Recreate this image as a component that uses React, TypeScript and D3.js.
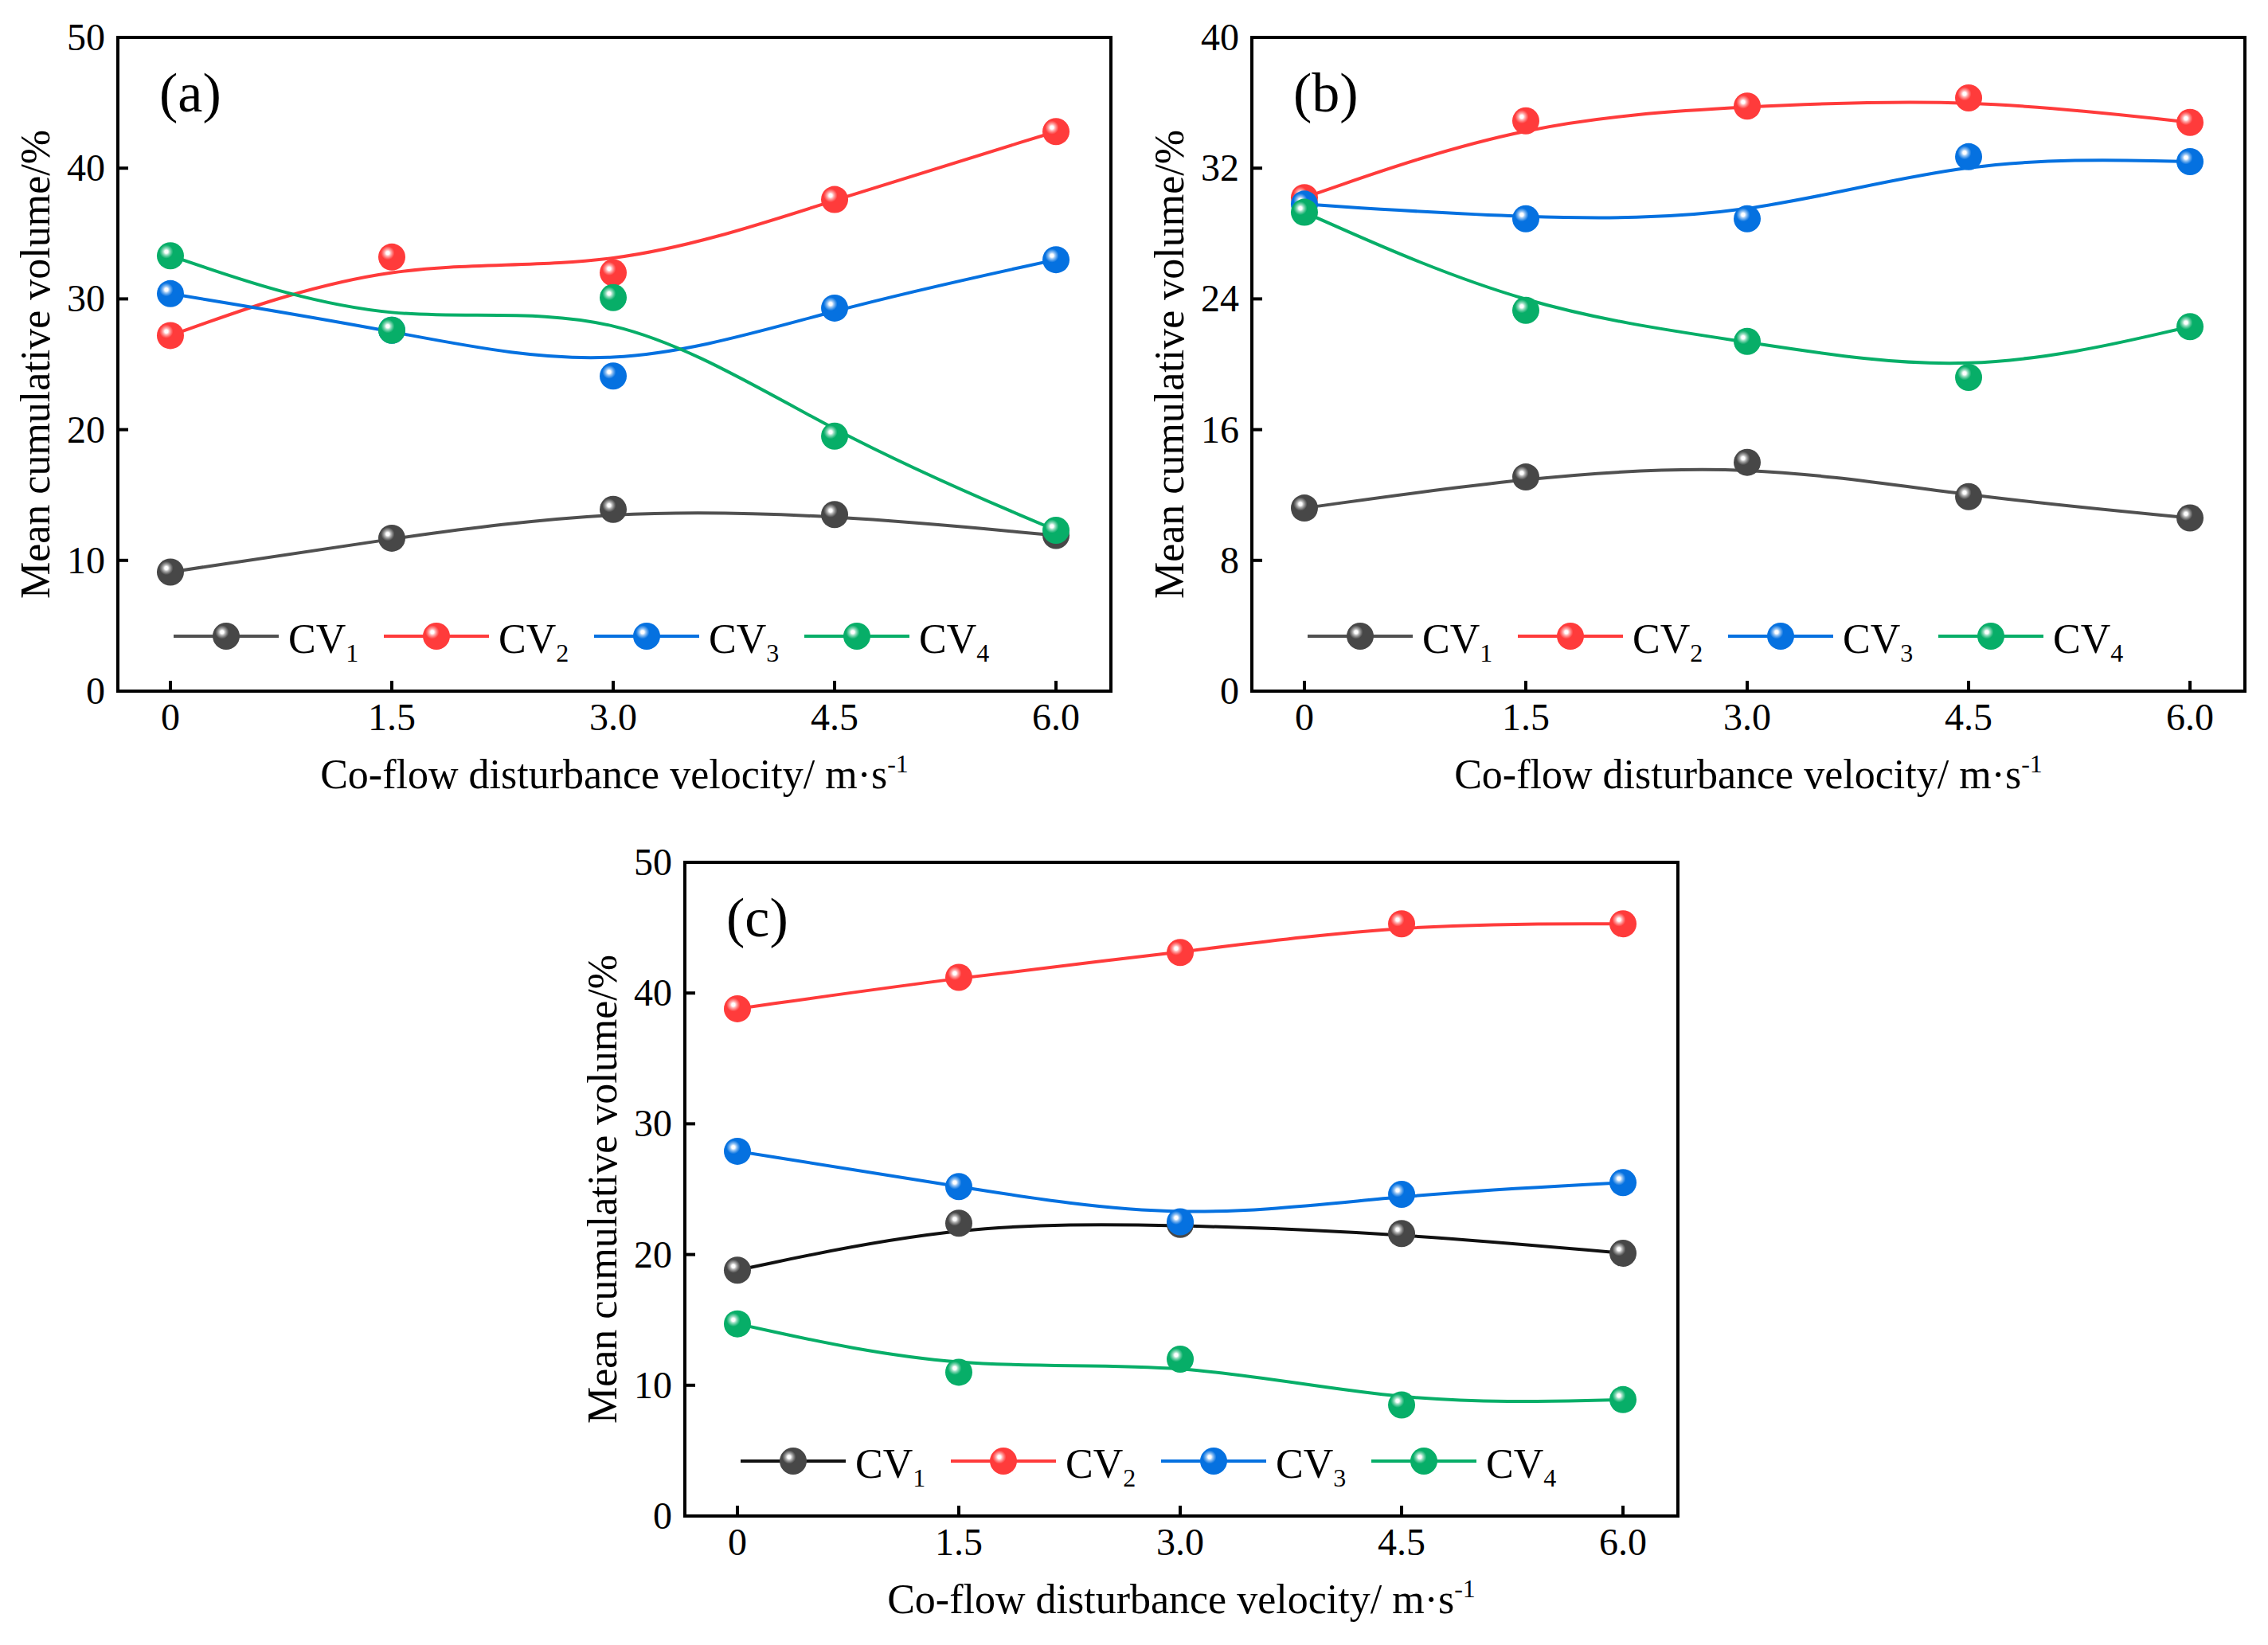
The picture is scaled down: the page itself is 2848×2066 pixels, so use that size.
import React, { useEffect, useRef } from 'react';
import * as d3 from 'd3';

// x positions (co-flow disturbance velocity, m/s)
const velocities = [0, 1.5, 3.0, 4.5, 6.0];
const xTickLabels = ['0', '1.5', '3.0', '4.5', '6.0'];
const seriesKeys = ['1', '2', '3', '4']; // CV subscripts

// panel (a)
const aCV1 = [9.1, 11.7, 13.9, 13.5, 11.9];
const aCV2 = [27.2, 33.2, 32.0, 37.6, 42.8];
const aCV3 = [30.4, 27.6, 24.1, 29.3, 33.0];
const aCV4 = [33.3, 27.6, 30.1, 19.5, 12.3];
const aYTicks = [0, 10, 20, 30, 40, 50];

// panel (b)
const bCV1 = [11.2, 13.1, 14.0, 11.9, 10.6];
const bCV2 = [30.2, 34.9, 35.8, 36.3, 34.8];
const bCV3 = [29.8, 28.9, 28.9, 32.7, 32.4];
const bCV4 = [29.3, 23.3, 21.4, 19.2, 22.3];
const bYTicks = [0, 8, 16, 24, 32, 40];

// panel (c)
const cCV1 = [18.8, 22.4, 22.3, 21.6, 20.1];
const cCV2 = [38.8, 41.2, 43.1, 45.3, 45.3];
const cCV3 = [27.9, 25.2, 22.5, 24.6, 25.5];
const cCV4 = [14.7, 11.0, 12.0, 8.5, 8.9];
const cYTicks = [0, 10, 20, 30, 40, 50];

const markerColors = ['#474747', '#ff3b3b', '#0571e0', '#07ae68'];
const lineColorsAB = ['#505050', '#ff3b3b', '#0571e0', '#07ae68'];
const lineColorsC = ['#111111', '#ff3b3b', '#0571e0', '#07ae68'];

const FONT = '"Liberation Serif", "Times New Roman", serif';
const PW = 1247;
const PH = 821;

interface Panel {
  label: string;
  left: number;
  top: number;
  yTicks: number[];
  series: number[][];
  lineColors: string[];
}

const panels: Panel[] = [
  { label: '(a)', left: 148, top: 47, yTicks: aYTicks, series: [aCV1, aCV2, aCV3, aCV4], lineColors: lineColorsAB },
  { label: '(b)', left: 1572, top: 47, yTicks: bYTicks, series: [bCV1, bCV2, bCV3, bCV4], lineColors: lineColorsAB },
  { label: '(c)', left: 860, top: 1083, yTicks: cYTicks, series: [cCV1, cCV2, cCV3, cCV4], lineColors: lineColorsC },
];

export default function App() {
  const svgRef = useRef<SVGSVGElement>(null);

  useEffect(() => {
    if (!svgRef.current) return;
    const svg = d3.select(svgRef.current);
    svg.selectAll('*').remove();

    // sphere-like gradients for markers
    const defs = svg.append('defs');
    markerColors.forEach((c, i) => {
      const grad = defs.append('radialGradient')
        .attr('id', `ball${i}`)
        .attr('cx', 0.35).attr('cy', 0.35).attr('r', 0.6)
        .attr('fx', 0.35).attr('fy', 0.35);
      const light = d3.interpolateRgb(c, '#ffffff');
      grad.append('stop').attr('offset', 0).attr('stop-color', '#ffffff');
      grad.append('stop').attr('offset', 0.1).attr('stop-color', '#ffffff');
      grad.append('stop').attr('offset', 0.2).attr('stop-color', light(0.6));
      grad.append('stop').attr('offset', 0.32).attr('stop-color', light(0.25));
      grad.append('stop').attr('offset', 0.42).attr('stop-color', c);
      grad.append('stop').attr('offset', 1).attr('stop-color', c);
    });

    panels.forEach((p) => {
      const g = svg.append('g').attr('transform', `translate(${p.left},${p.top})`);

      const x = d3.scaleLinear().domain([-0.356, 6.372]).range([0, PW]);
      const yMax = p.yTicks[p.yTicks.length - 1];
      const y = d3.scaleLinear().domain([0, yMax]).range([PH, 0]);

      const line = d3.line<number>()
        .x((_, i) => x(velocities[i]))
        .y((d) => y(d))
        .curve(d3.curveBasis);

      // series: line then markers
      p.series.forEach((vals, si) => {
        g.append('path')
          .datum(vals)
          .attr('d', line)
          .attr('fill', 'none')
          .attr('stroke', p.lineColors[si])
          .attr('stroke-width', 4);
        vals.forEach((v, i) => {
          g.append('circle')
            .attr('cx', x(velocities[i]))
            .attr('cy', y(v))
            .attr('r', 17)
            .attr('fill', `url(#ball${si})`);
        });
      });

      // frame
      g.append('rect')
        .attr('x', 0).attr('y', 0)
        .attr('width', PW).attr('height', PH)
        .attr('fill', 'none')
        .attr('stroke', '#000')
        .attr('stroke-width', 4);

      // x ticks + labels
      velocities.forEach((v, i) => {
        g.append('line')
          .attr('x1', x(v)).attr('x2', x(v))
          .attr('y1', PH).attr('y2', PH - 13)
          .attr('stroke', '#000').attr('stroke-width', 4);
        g.append('text')
          .attr('x', x(v)).attr('y', PH + 49)
          .attr('text-anchor', 'middle')
          .attr('font-family', FONT)
          .attr('font-size', 48)
          .text(xTickLabels[i]);
      });

      // y ticks + labels
      p.yTicks.forEach((t) => {
        g.append('line')
          .attr('x1', 0).attr('x2', 13)
          .attr('y1', y(t)).attr('y2', y(t))
          .attr('stroke', '#000').attr('stroke-width', 4);
        g.append('text')
          .attr('x', -16).attr('y', y(t) + 16)
          .attr('text-anchor', 'end')
          .attr('font-family', FONT)
          .attr('font-size', 48)
          .text(String(t));
      });

      // panel label
      g.append('text')
        .attr('x', 52).attr('y', 93)
        .attr('font-family', FONT)
        .attr('font-size', 70)
        .text(p.label);

      // axis titles
      const xt = g.append('text')
        .attr('x', PW / 2).attr('y', 943)
        .attr('text-anchor', 'middle')
        .attr('font-family', FONT)
        .attr('font-size', 52);
      xt.append('tspan').text('Co-flow disturbance velocity/ m\u00b7s');
      xt.append('tspan').attr('font-size', 32).attr('dy', -20).text('-1');

      g.append('text')
        .attr('transform', `translate(-86,${PH / 2}) rotate(-90)`)
        .attr('text-anchor', 'middle')
        .attr('font-family', FONT)
        .attr('font-size', 52)
        .text('Mean cumulative volume/%');

      // legend
      const ly = 752;
      seriesKeys.forEach((k, si) => {
        const sx = 70 + si * 264;
        g.append('line')
          .attr('x1', sx).attr('x2', sx + 132)
          .attr('y1', ly).attr('y2', ly)
          .attr('stroke', p.lineColors[si])
          .attr('stroke-width', 4);
        g.append('circle')
          .attr('cx', sx + 66).attr('cy', ly)
          .attr('r', 17)
          .attr('fill', `url(#ball${si})`);
        const t = g.append('text')
          .attr('x', sx + 144).attr('y', ly + 21)
          .attr('font-family', FONT)
          .attr('font-size', 52);
        t.append('tspan').text('CV');
        t.append('tspan').attr('font-size', 32).attr('dy', 11).text(k);
      });
    });
  }, []);

  return (
    <svg
      ref={svgRef}
      width={2848}
      height={2066}
      style={{ position: 'absolute', left: 0, top: 0, background: '#fff', display: 'block' }}
    />
  );
}
